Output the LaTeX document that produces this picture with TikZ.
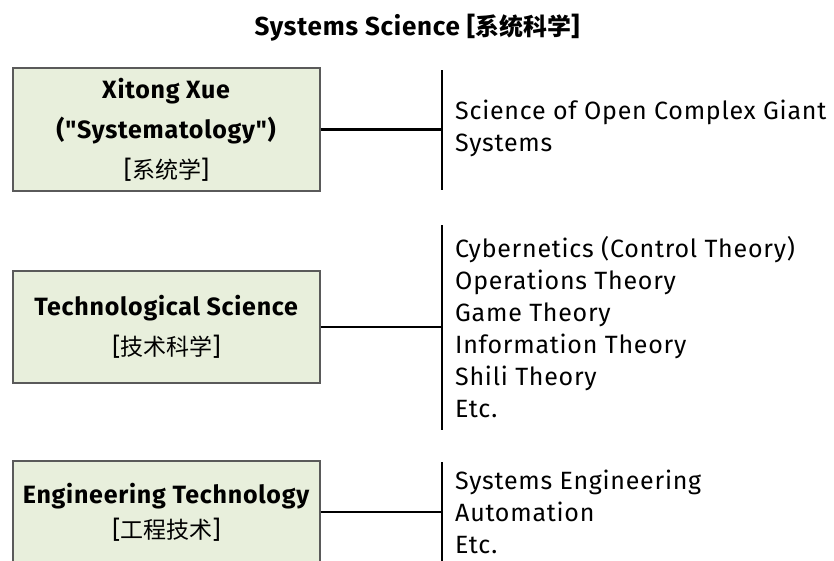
\documentclass[tikz,border=0pt]{standalone}
\usepackage{fontspec}
\setmainfont{Fira Sans}[Ligatures=TeXOff,LetterSpace=3]
\newfontfamily\cjk{Noto Sans CJK SC}[Scale=0.92]
\definecolor{boxfill}{HTML}{E8EFDC}
\definecolor{boxdraw}{HTML}{5A5A5A}
\begin{document}
\begin{tikzpicture}[x=1pt,y=-1pt,
  catbox/.style={draw=boxdraw,line width=1.3pt,fill=boxfill,minimum width=307pt,inner sep=0pt,align=center,font=\fontsize{25}{40}\selectfont},
  itemlist/.style={anchor=west,align=left,inner sep=0pt,font=\fontsize{25}{32}\selectfont},
  bar/.style={line width=2.6pt,black},
  link/.style={line width=2.6pt,black}]
\useasboundingbox (0,0) rectangle (834,560);
\node[font=\fontsize{26}{28}\selectfont\bfseries] (title) at (417,28) {Systems Science {[}{\cjk 系统科学}{]}};

\node[catbox,minimum height=123pt] (b1) at (166.5,129.5) {\textbf{Xitong Xue}\\ \textbf{("Systematology")}\\ {[}{\cjk 系统学}{]}};
\node[catbox,minimum height=112pt] (b2) at (166.5,327) {\textbf{Technological Science}\\ {[}{\cjk 技术科学}{]}};
\node[catbox,minimum height=102pt,font=\fontsize{25}{35}\selectfont] (b3) at (166.5,512) {\textbf{Engineering Technology}\\ {[}{\cjk 工程技术}{]}};

\coordinate (v1t) at (442,70);  \coordinate (v1b) at (442,190);
\coordinate (v2t) at (442,225); \coordinate (v2b) at (442,430);
\coordinate (v3t) at (442,462); \coordinate (v3b) at (442,570);
\draw[bar] (v1t) -- (v1b);
\draw[bar] (v2t) -- (v2b);
\draw[bar] (v3t) -- (v3b);
\draw[link] (b1.east) -- (b1.east -| v1t);
\draw[link] (b2.east) -- (b2.east -| v2t);
\draw[link] (b3.east) -- (b3.east -| v3t);

\node[itemlist] (l1) at (455,128) {Science of Open Complex Giant\\ Systems};
\node[itemlist] (l2) at (455,327) {Cybernetics (Control Theory)\\ Operations Theory\\ Game Theory\\ Information Theory\\ Shili Theory\\ Etc.};
\node[itemlist] (l3) at (455,512) {Systems Engineering\\ Automation\\ Etc.};
\end{tikzpicture}
\end{document}
